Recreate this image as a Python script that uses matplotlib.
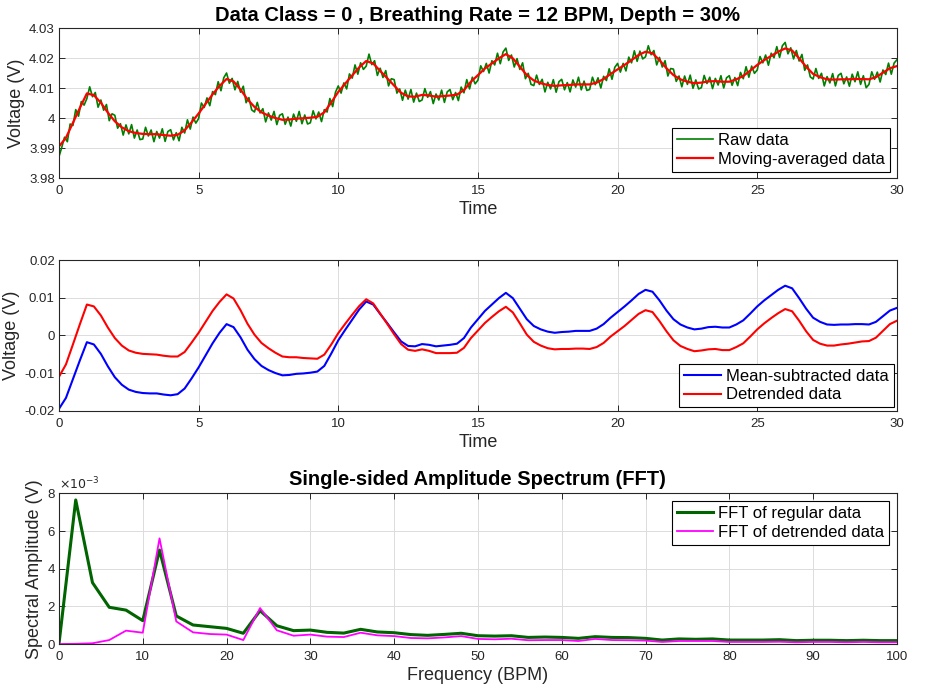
import numpy as np
import matplotlib
matplotlib.use("Agg")
import matplotlib.pyplot as plt
from matplotlib.ticker import FuncFormatter

plt.rcParams['font.family'] = ['Liberation Sans', 'DejaVu Sans']

# ---- data ----
# moving-averaged voltage, mV above 4 V, every 0.25 s
ma_mv = [
    -9.4, -6.5, -1.5, 3.5,
    8.3, 7.7, 5.2, 1.9,
    -1.0, -3.0, -4.3, -4.9,
    -5.2, -5.3, -5.3, -5.6,
    -5.8, -5.5, -4.0, -1.3,
    1.6, 4.8, 8.0, 10.8,
    13.1, 12.3, 9.6, 6.3,
    3.8, 2.0, 0.9, 0.1,
    -0.5, -0.4, -0.1, 0.0,
    0.2, 0.5, 2.0, 5.3,
    8.8, 11.6, 14.3, 17.0,
    19.1, 18.3, 15.8, 13.4,
    10.9, 8.5, 7.3, 7.2,
    7.8, 7.6, 7.2, 7.4,
    7.6, 7.9, 9.4, 12.2,
    14.4, 16.6, 18.3, 20.0,
    21.4, 20.0, 17.2, 14.4,
    12.6, 11.7, 11.1, 10.8,
    11.0, 11.1, 11.3, 11.3,
    11.3, 11.9, 13.1, 14.8,
    16.3, 17.8, 19.4, 21.1,
    22.2, 21.7, 19.4, 16.7,
    14.4, 13.0, 12.2, 11.7,
    11.9, 12.3, 12.4, 12.2,
    12.2, 13.0, 14.1, 15.9,
    17.8, 19.4, 20.8, 22.2,
    23.3, 22.6, 20.0, 17.2,
    14.8, 13.7, 13.0, 12.9,
    13.0, 13.0, 13.1, 13.1,
    13.0, 13.7, 15.2, 16.7,
    17.4,
]

# mean-subtracted data, mV, every 0.25 s
meansub_mv = [
    -19.5, -16.6, -11.6, -6.6,
    -1.8, -2.4, -4.9, -8.2,
    -11.1, -13.1, -14.4, -15.0,
    -15.3, -15.4, -15.4, -15.7,
    -15.9, -15.6, -14.1, -11.4,
    -8.5, -5.3, -2.1, 0.7,
    3.0, 2.2, -0.5, -3.8,
    -6.3, -8.1, -9.2, -10.0,
    -10.6, -10.5, -10.2, -10.1,
    -9.9, -9.6, -8.1, -4.8,
    -1.3, 1.5, 4.2, 6.9,
    9.0, 8.2, 5.7, 3.3,
    0.8, -1.6, -2.8, -2.9,
    -2.3, -2.5, -2.9, -2.7,
    -2.5, -2.2, -0.7, 2.1,
    4.3, 6.5, 8.2, 9.9,
    11.3, 9.9, 7.1, 4.3,
    2.5, 1.6, 1.0, 0.7,
    0.9, 1.0, 1.2, 1.2,
    1.2, 1.8, 3.0, 4.7,
    6.2, 7.7, 9.3, 11.0,
    12.1, 11.6, 9.3, 6.6,
    4.3, 2.9, 2.1, 1.6,
    1.8, 2.2, 2.3, 2.1,
    2.1, 2.9, 4.0, 5.8,
    7.7, 9.3, 10.7, 12.1,
    13.2, 12.5, 9.9, 7.1,
    4.7, 3.6, 2.9, 2.8,
    2.9, 2.9, 3.0, 3.0,
    2.9, 3.6, 5.1, 6.6,
    7.3,
]

# detrended data, mV, every 0.25 s
detrend_mv = [
    -11.0, -7.7, -2.4, 3.0,
    8.2, 7.7, 5.3, 2.1,
    -0.7, -2.7, -4.0, -4.6,
    -4.9, -5.0, -5.1, -5.4,
    -5.6, -5.6, -4.4, -1.9,
    0.7, 3.6, 6.5, 8.9,
    10.9, 9.8, 6.7, 3.1,
    0.2, -2.0, -3.4, -4.6,
    -5.6, -5.8, -5.8, -6.0,
    -6.1, -6.2, -5.1, -2.4,
    0.6, 3.1, 5.5, 7.8,
    9.6, 8.5, 5.8, 3.1,
    0.3, -2.3, -3.8, -4.1,
    -3.7, -4.1, -4.7, -4.7,
    -4.7, -4.6, -3.3, -0.7,
    1.3, 3.3, 4.9, 6.4,
    7.6, 6.1, 3.2, 0.2,
    -1.7, -2.7, -3.4, -3.7,
    -3.6, -3.6, -3.5, -3.5,
    -3.6, -3.1, -2.0, -0.3,
    1.1, 2.5, 4.1, 5.7,
    6.7, 6.2, 3.8, 1.1,
    -1.3, -2.8, -3.6, -4.2,
    -4.0, -3.7, -3.6, -3.9,
    -3.9, -3.1, -2.1, -0.3,
    1.6, 3.2, 4.6, 5.9,
    7.0, 6.4, 3.9, 1.1,
    -1.2, -2.2, -2.7, -2.7,
    -2.4, -2.2, -1.9, -1.6,
    -1.5, -0.6, 1.2, 3.0,
    3.9,
]

# raw voltage, mV above 4 V, every 0.1 s
raw_mv = [
    -12.8, -9.7, -6.3, -7.8, -1.9, -2.4, 2.9, 0.7, 5.6, 4.4,
    6.6, 10.5, 7.2, 8.6, 3.7, 6.1, 2.7, 4.6, -0.8, 1.5,
    1.0, -3.3, -1.8, -5.6, -2.2, -5.2, -2.1, -6.6, -3.9, -7.1,
    -6.9, -3.0, -5.9, -3.9, -7.8, -4.4, -6.6, -3.5, -7.7, -4.4,
    -3.8, -7.2, -4.8, -7.5, -3.0, -4.9, -0.5, -3.6, 0.4, -1.6,
    -0.1, 5.1, 3.6, 6.8, 4.2, 8.9, 7.9, 12.2, 9.2, 13.5,
    15.1, 11.7, 13.3, 9.5, 12.3, 8.7, 10.7, 5.2, 6.9, 2.8,
    2.1, 5.3, 1.8, 3.2, -1.2, 1.8, -0.6, 2.3, -2.1, 1.0,
    1.5, -2.0, 0.4, -2.6, 1.4, -1.0, 2.3, -1.8, 1.1, -1.9,
    -1.5, 2.5, -0.2, 2.1, -1.1, 2.9, 2.1, 6.6, 3.9, 8.7,
    10.8, 8.4, 11.8, 9.8, 14.8, 13.4, 17.8, 14.7, 18.5, 16.3,
    17.4, 21.4, 17.9, 19.2, 14.3, 16.7, 13.6, 15.9, 10.8, 13.2,
    12.9, 8.4, 9.8, 6.0, 9.4, 6.4, 9.6, 5.4, 8.4, 5.6,
    6.1, 9.9, 7.0, 8.9, 4.9, 8.1, 6.1, 9.4, 5.3, 8.8,
    9.6, 6.2, 8.6, 5.9, 10.4, 8.5, 12.9, 9.8, 13.7, 11.5,
    12.7, 17.5, 15.6, 18.3, 15.1, 19.2, 17.8, 21.7, 18.2, 22.1,
    23.4, 19.3, 21.1, 17.1, 19.9, 16.3, 18.5, 13.2, 15.0, 11.3,
    10.9, 14.4, 11.3, 13.0, 8.8, 12.0, 9.8, 12.9, 8.7, 12.2,
    13.0, 9.5, 11.9, 8.8, 12.8, 10.4, 13.7, 9.5, 12.4, 9.3,
    9.6, 13.7, 11.2, 13.5, 10.1, 14.0, 12.6, 16.5, 13.0, 17.0,
    18.3, 15.4, 18.3, 15.8, 20.4, 18.5, 22.5, 19.0, 22.4, 19.8,
    20.5, 24.2, 21.2, 22.6, 17.8, 20.3, 17.1, 19.2, 14.1, 16.6,
    16.4, 12.3, 14.1, 10.5, 14.1, 11.3, 14.4, 10.0, 12.8, 9.8,
    10.2, 14.3, 11.6, 13.7, 9.9, 13.3, 11.1, 14.2, 10.1, 13.5,
    14.2, 11.0, 13.6, 10.9, 15.3, 13.2, 17.2, 13.7, 17.4, 15.0,
    16.1, 20.6, 18.5, 21.1, 17.7, 21.7, 20.2, 23.9, 20.3, 24.2,
    25.3, 21.5, 23.5, 19.8, 22.6, 19.1, 21.3, 16.0, 17.8, 13.8,
    13.1, 16.6, 13.3, 15.0, 10.8, 13.9, 11.8, 14.9, 10.8, 14.3,
    15.0, 11.5, 13.8, 10.7, 14.7, 12.2, 15.5, 11.3, 14.2, 10.2,
    11.3, 15.5, 13.0, 15.4, 12.1, 16.1, 14.6, 18.4, 14.7, 18.4,
    19.5,
]

# FFT amplitudes (x1e-3 V), every 2 BPM from 0 to 100
fft_regular = [
    0.0, 7.65, 3.26, 1.95, 1.80, 1.24,
    4.99, 1.49, 1.01, 0.92, 0.83,
    0.57, 1.77, 0.97, 0.71, 0.74,
    0.62, 0.58, 0.78, 0.64, 0.60,
    0.50, 0.46, 0.51, 0.57, 0.44,
    0.42, 0.44, 0.35, 0.37, 0.35,
    0.30, 0.39, 0.35, 0.34, 0.30,
    0.21, 0.27, 0.25, 0.27, 0.21,
    0.21, 0.21, 0.23, 0.18, 0.20,
    0.20, 0.18, 0.20, 0.18, 0.18,
]
fft_detrended = [
    0.0, 0.01, 0.04, 0.21, 0.71, 0.60,
    5.61, 1.20, 0.62, 0.53, 0.50,
    0.21, 1.91, 0.73, 0.44, 0.50,
    0.39, 0.37, 0.60, 0.46, 0.42,
    0.32, 0.30, 0.35, 0.42, 0.27,
    0.25, 0.28, 0.20, 0.21, 0.21,
    0.16, 0.27, 0.21, 0.20, 0.18,
    0.11, 0.16, 0.16, 0.16, 0.11,
    0.11, 0.11, 0.12, 0.09, 0.11,
    0.11, 0.09, 0.11, 0.09, 0.09,
]

t_ma = np.linspace(0, 30, len(ma_mv))
t_raw = np.linspace(0, 30, len(raw_mv))
freq_bpm = np.linspace(0, 100, len(fft_regular))

ma_v = 4.0 + np.array(ma_mv) / 1000
raw_v = 4.0 + np.array(raw_mv) / 1000
meansub_v = np.array(meansub_mv) / 1000
detrend_v = np.array(detrend_mv) / 1000
fft_reg_v = np.array(fft_regular) * 1e-3
fft_det_v = np.array(fft_detrended) * 1e-3

TXT = '#262626'


def style_axes(ax):
    ax.grid(True, color='#dcdcdc', linewidth=0.7)
    ax.set_axisbelow(True)
    ax.tick_params(direction='in', top=True, right=True, length=4,
                   width=0.7, labelsize=9.5, colors=TXT)
    ax.tick_params(axis='x', pad=5)
    ax.tick_params(axis='y', pad=3)
    for s in ax.spines.values():
        s.set_color(TXT)
        s.set_linewidth(0.8)


def add_legend(ax, loc, pad):
    leg = ax.legend(loc=loc, fontsize=12, fancybox=False, framealpha=1,
                    edgecolor='black', borderpad=0.3, labelspacing=0.22,
                    handlelength=2.2, handletextpad=0.3, borderaxespad=pad)
    leg.get_frame().set_linewidth(0.8)
    return leg


gfmt = FuncFormatter(lambda v, p: '{:g}'.format(round(v, 6)))

fig = plt.figure(figsize=(9.3, 6.91), dpi=100)

# top: raw vs moving average
ax1 = fig.add_axes([0.0634, 0.742, 0.901, 0.217])
ax1.plot(t_raw, raw_v, color='#008000', linewidth=1.2, label='Raw data')
ax1.plot(t_ma, ma_v, color='#ff0000', linewidth=1.6, label='Moving-averaged data')
ax1.set_xlim(0, 30)
ax1.set_ylim(3.98, 4.03)
ax1.set_yticks([3.98, 3.99, 4.0, 4.01, 4.02, 4.03])
ax1.set_xticks([0, 5, 10, 15, 20, 25, 30])
ax1.yaxis.set_major_formatter(gfmt)
style_axes(ax1)
ax1.set_xlabel('Time', fontsize=13, color=TXT, labelpad=3)
ax1.set_ylabel('Voltage (V)', fontsize=13, color=TXT, labelpad=3)
ax1.set_title('Data Class = 0 , Breathing Rate = 12 BPM, Depth = 30%',
              fontsize=14.5, fontweight='bold', pad=5)
add_legend(ax1, 'lower right', 0.4)

# middle: mean-subtracted vs detrended
ax2 = fig.add_axes([0.0634, 0.4056, 0.901, 0.218])
ax2.plot(t_ma, meansub_v, color='#0000ff', linewidth=1.5, label='Mean-subtracted data')
ax2.plot(t_ma, detrend_v, color='#ff0000', linewidth=1.5, label='Detrended data')
ax2.set_xlim(0, 30)
ax2.set_ylim(-0.02, 0.02)
ax2.set_yticks([-0.02, -0.01, 0, 0.01, 0.02])
ax2.set_xticks([0, 5, 10, 15, 20, 25, 30])
ax2.yaxis.set_major_formatter(gfmt)
style_axes(ax2)
ax2.set_xlabel('Time', fontsize=13, color=TXT, labelpad=3)
ax2.set_ylabel('Voltage (V)', fontsize=13, color=TXT, labelpad=3)
add_legend(ax2, 'lower right', 0.2)

# bottom: FFT
ax3 = fig.add_axes([0.0634, 0.068, 0.901, 0.218])
ax3.plot(freq_bpm, fft_reg_v, color='#006400', linewidth=2.2, label='FFT of regular data')
ax3.plot(freq_bpm, fft_det_v, color='#ff00ff', linewidth=1.3, label='FFT of detrended data')
ax3.set_xlim(0, 100)
ax3.set_ylim(0, 0.008)
ax3.set_yticks([0, 0.002, 0.004, 0.006, 0.008])
ax3.set_xticks(range(0, 101, 10))
ax3.yaxis.set_major_formatter(FuncFormatter(lambda v, p: '{:g}'.format(round(v * 1e3, 6))))
style_axes(ax3)
ax3.text(0.0, 1.01, r'$\times10^{-3}$', transform=ax3.transAxes,
         fontsize=9, color=TXT, ha='left', va='bottom')
ax3.set_xlabel('Frequency (BPM)', fontsize=13, color=TXT, labelpad=3)
ax3.set_ylabel('Spectral Amplitude (V)', fontsize=13, color=TXT, labelpad=3)
ax3.set_title('Single-sided Amplitude Spectrum (FFT)', fontsize=14.5,
              fontweight='bold', pad=6)
add_legend(ax3, 'upper right', 0.45)

fig.savefig('out.png', dpi=100)
